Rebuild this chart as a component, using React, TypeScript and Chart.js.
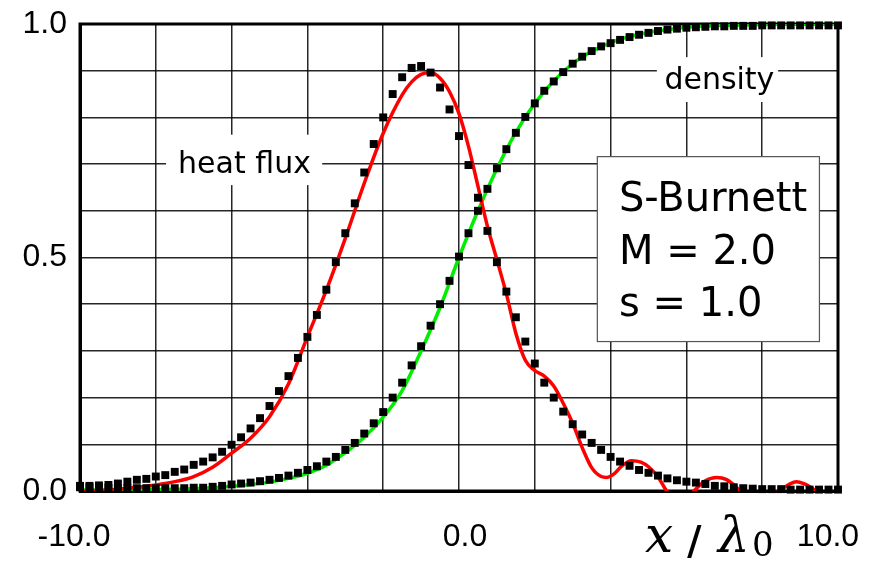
import React, { useEffect, useRef } from 'react';
import { Chart, registerables } from 'chart.js';

Chart.register(...registerables);

// ---- data ----
const MARKER_X_START = -10;
const MARKER_X_STEP = 0.25;

const densityMarkers = [
  0.008, 0.008, 0.007, 0.007, 0.006, 0.006, 0.006, 0.006, 0.006, 0.006,
  0.006, 0.006, 0.007, 0.007, 0.009, 0.011, 0.014, 0.016, 0.018, 0.021,
  0.024, 0.028, 0.033, 0.039, 0.045, 0.053, 0.063, 0.073, 0.088, 0.103,
  0.123, 0.145, 0.169, 0.200, 0.232, 0.269, 0.310, 0.354, 0.400, 0.450,
  0.502, 0.552, 0.600, 0.647, 0.691, 0.732, 0.767, 0.801, 0.830, 0.857,
  0.877, 0.897, 0.915, 0.930, 0.942, 0.952, 0.959, 0.966, 0.972, 0.977,
  0.981, 0.985, 0.988, 0.990, 0.992, 0.993, 0.994, 0.995, 0.995, 0.996,
  0.996, 0.996, 0.997, 0.997, 0.997, 0.997, 0.997, 0.997, 0.997, 0.997,
  0.997,
];

const heatFluxMarkers = [
  0.011, 0.011, 0.012, 0.013, 0.016, 0.020, 0.024, 0.026, 0.031, 0.034,
  0.041, 0.046, 0.056, 0.063, 0.072, 0.084, 0.099, 0.115, 0.134, 0.156,
  0.182, 0.214, 0.246, 0.285, 0.330, 0.377, 0.431, 0.490, 0.552, 0.616,
  0.682, 0.743, 0.800, 0.850, 0.886, 0.906, 0.910, 0.896, 0.864, 0.817,
  0.760, 0.698, 0.628, 0.557, 0.490, 0.427, 0.372, 0.320, 0.273, 0.232,
  0.200, 0.170, 0.143, 0.121, 0.103, 0.088, 0.073, 0.063, 0.054, 0.045,
  0.039, 0.033, 0.027, 0.023, 0.020, 0.018, 0.015, 0.011, 0.010, 0.008,
  0.006, 0.005, 0.004, 0.004, 0.004, 0.003, 0.003, 0.003, 0.003, 0.003,
  0.003,
];

const heatLineX = [
  -10, -9.5, -9, -8.5, -8, -7.5, -7, -6.5, -6, -5.5, -5, -4.5, -4, -3.5, -3,
  -2.5, -2, -1.5, -1.25, -1, -0.75, -0.5, -0.25, 0, 0.25, 0.5, 0.75, 1, 1.25,
  1.5, 1.75, 2, 2.25, 2.5, 2.75, 3, 3.25, 3.5, 3.75, 3.9, 4.1, 4.3, 4.55, 4.8,
  5.0, 5.25, 5.5, 5.75, 6.0, 6.2, 6.5, 6.8, 7.05, 7.25, 7.45, 7.75, 8.0, 8.25,
  8.5, 8.7, 8.9, 9.1, 9.3, 9.45, 9.75, 10,
];
const heatLineY = [
  0.000, 0.001, 0.004, 0.008, 0.013, 0.020, 0.031, 0.051, 0.081, 0.113, 0.159,
  0.229, 0.330, 0.430, 0.541, 0.659, 0.766, 0.848, 0.876, 0.892, 0.896, 0.884,
  0.855, 0.808, 0.738, 0.653, 0.567, 0.495, 0.422, 0.338, 0.280, 0.258, 0.246,
  0.225, 0.188, 0.145, 0.093, 0.050, 0.031, 0.029, 0.037, 0.054, 0.065, 0.062,
  0.052, 0.030, -0.002, -0.022, -0.020, 0.000, 0.022, 0.029, 0.025, 0.013,
  -0.001, -0.012, -0.014, -0.008, 0.002, 0.014, 0.020, 0.016, 0.007, -0.001,
  -0.010, -0.012,
];

const densityLineX = [
  -10, -9, -8, -7, -6.5, -6, -5.5, -5, -4.5, -4, -3.5, -3, -2.5, -2, -1.5, -1,
  -0.5, 0, 0.5, 1, 1.5, 2, 2.5, 3, 3.5, 4, 4.5, 5, 5.5, 6, 7, 8, 9, 10,
];
const densityLineY = [
  0.002, 0.002, 0.003, 0.005, 0.007, 0.010, 0.014, 0.019, 0.027, 0.038, 0.055,
  0.082, 0.115, 0.158, 0.215, 0.300, 0.393, 0.500, 0.600, 0.690, 0.768, 0.830,
  0.878, 0.915, 0.941, 0.960, 0.973, 0.982, 0.988, 0.993, 0.997, 0.999, 1.0,
  1.0,
];

const xTickValues = [-10, 0, 10];
const xTickLabels = ['-10.0', '0.0', '10.0'];
const yLabelValues = [0, 0.5, 1];

const infoLines = ['S-Burnett', 'M = 2.0', 's = 1.0'];

// ---- helpers ----
const markerPoints = (vals: number[]) =>
  vals.map((v, i) => ({ x: MARKER_X_START + i * MARKER_X_STEP, y: v }));
const linePoints = (xs: number[], ys: number[]) =>
  xs.map((x, i) => ({ x, y: ys[i] }));

const SANS = '"DejaVu Sans", sans-serif';
const TICK_FONT = '"Liberation Sans", Arial, sans-serif';
const SERIF = '"DejaVu Serif", serif';

const overlayPlugin = {
  id: 'overlay',
  beforeDatasetsDraw(chart: any) {
    const { ctx, chartArea: a } = chart;
    ctx.save();
    ctx.lineWidth = 3;
    ctx.strokeStyle = '#000';
    ctx.strokeRect(a.left, a.top, a.right - a.left, a.bottom - a.top);
    ctx.restore();
  },
  afterDatasetsDraw(chart: any) {
    const { ctx, chartArea: a, scales } = chart;
    const xs = scales.x;
    const ys = scales.y;
    const px = (v: number) => xs.getPixelForValue(v);
    const py = (v: number) => ys.getPixelForValue(v);
    ctx.save();

    // "heat flux" label
    ctx.fillStyle = '#fff';
    ctx.fillRect(px(-7.73), py(0.763), px(-3.61) - px(-7.73), py(0.655) - py(0.763));
    ctx.fillStyle = '#000';
    ctx.font = `30px ${SANS}`;
    ctx.textAlign = 'center';
    ctx.textBaseline = 'alphabetic';
    ctx.fillText('heat flux', px(-5.66), py(0.68));

    // "density" label
    ctx.fillStyle = '#fff';
    ctx.fillRect(px(5.22), py(0.929), px(8.42) - px(5.22), py(0.833) - py(0.929));
    ctx.fillStyle = '#000';
    ctx.fillText('density', px(6.87), py(0.86));

    // info box
    const bx0 = px(3.65), bx1 = px(9.51), by0 = py(0.716), by1 = py(0.32);
    ctx.fillStyle = '#fff';
    ctx.fillRect(bx0, by0, bx1 - bx0, by1 - by0);
    ctx.strokeStyle = '#555';
    ctx.lineWidth = 1.2;
    ctx.strokeRect(bx0, by0, bx1 - bx0, by1 - by0);
    ctx.fillStyle = '#000';
    ctx.font = `40px ${SANS}`;
    ctx.textAlign = 'left';
    const baselines = [0.6, 0.486, 0.375];
    infoLines.forEach((t, i) => ctx.fillText(t, px(4.22), py(baselines[i])));

    // x tick labels
    ctx.font = `32px ${TICK_FONT}`;
    ctx.textAlign = 'center';
    const shifts = [-6, 6, -10];
    xTickValues.forEach((v, i) => {
      ctx.fillText(xTickLabels[i], px(v) + shifts[i], a.bottom + 55);
    });

    // axis title: x / λ0
    ctx.textAlign = 'left';
    ctx.font = `italic 50px ${SERIF}`;
    ctx.fillText('x', a.right - 193, a.bottom + 61);
    ctx.font = `52px ${SERIF}`;
    ctx.fillText('/', a.right - 154, a.bottom + 72);
    ctx.font = `italic 50px ${SERIF}`;
    ctx.fillText('λ', a.right - 120, a.bottom + 61);
    ctx.font = `34px ${SERIF}`;
    ctx.fillText('0', a.right - 86, a.bottom + 65);

    ctx.restore();
  },
};

export default function App() {
  const ref = useRef<HTMLCanvasElement | null>(null);

  useEffect(() => {
    if (!ref.current) return;
    const chart = new Chart(ref.current, {
      type: 'scatter',
      data: {
        datasets: [
          {
            label: 'heat flux (DSMC)',
            data: markerPoints(heatFluxMarkers),
            pointStyle: 'rect',
            pointRadius: 5.6,
            pointBackgroundColor: '#000',
            pointBorderWidth: 0,
            showLine: false,
            clip: false,
          } as any,
          {
            label: 'density (DSMC)',
            data: markerPoints(densityMarkers),
            pointStyle: 'rect',
            pointRadius: 5.6,
            pointBackgroundColor: '#000',
            pointBorderWidth: 0,
            showLine: false,
            clip: false,
          },
          {
            label: 'heat flux',
            data: linePoints(heatLineX, heatLineY),
            showLine: true,
            borderColor: '#ff0000',
            borderWidth: 3.5,
            pointRadius: 0,
            cubicInterpolationMode: 'monotone',
            clip: 0,
          },
          {
            label: 'density',
            data: linePoints(densityLineX, densityLineY),
            showLine: true,
            borderColor: '#00ee00',
            borderWidth: 3.5,
            pointRadius: 0,
            cubicInterpolationMode: 'monotone',
          },
        ],
      },
      options: {
        responsive: false,
        animation: false,
        devicePixelRatio: 1,
        layout: { padding: { left: 0, top: 16, right: 26, bottom: 0 } },
        plugins: {
          legend: { display: false },
          tooltip: { enabled: false },
        },
        scales: {
          x: {
            type: 'linear',
            min: -10,
            max: 10,
            ticks: { stepSize: 2, display: false },
            grid: { color: 'rgba(0,0,0,0.85)', lineWidth: 1.5, drawTicks: false },
            border: { display: true, color: '#000', width: 3 },
            afterFit: (s: any) => {
              s.height = 67;
            },
          },
          y: {
            type: 'linear',
            min: 0,
            max: 1,
            ticks: {
              stepSize: 0.1,
              padding: 13,
              color: '#000',
              font: { family: TICK_FONT, size: 32, lineHeight: 0.1 },
              callback: (v: any) =>
                yLabelValues.some((t) => Math.abs(t - Number(v)) < 1e-6)
                  ? Number(v).toFixed(1)
                  : '',
            },
            grid: { color: 'rgba(0,0,0,0.85)', lineWidth: 1.5, drawTicks: false },
            border: { display: true, color: '#000', width: 3 },
            afterFit: (s: any) => {
              s.width = 72;
            },
          },
        },
      },
      plugins: [overlayPlugin],
    });
    return () => chart.destroy();
  }, []);

  return (
    <div style={{ width: 856, height: 550 }}>
      <canvas ref={ref} width={856} height={550} style={{ display: 'block' }} />
    </div>
  );
}
